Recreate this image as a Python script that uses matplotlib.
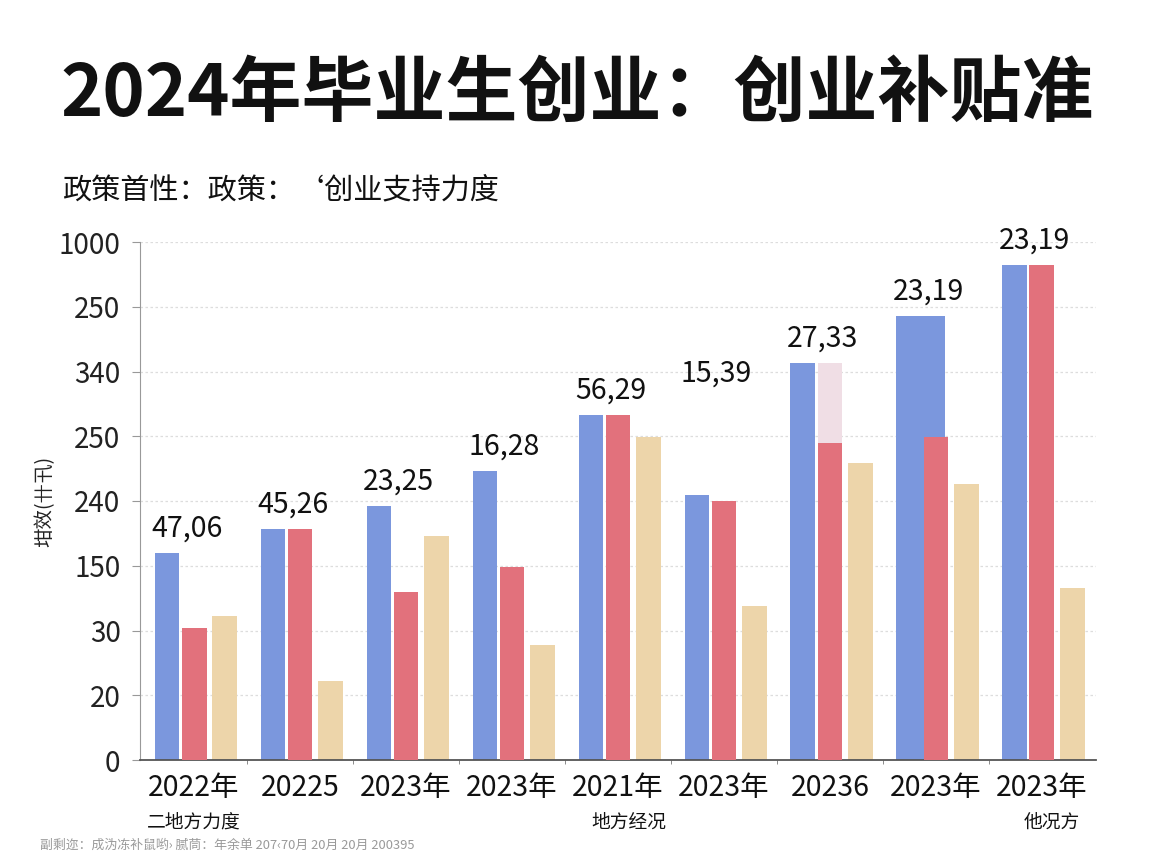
import matplotlib
matplotlib.use("Agg")
import matplotlib.pyplot as plt
import numpy as np

plt.rcParams['font.family'] = ['Noto Sans CJK SC', 'DejaVu Sans']

# ---- data ----
years = ['2022年', '20225', '2023年', '2023年', '2021年', '2023年', '20236', '2023年', '2023年']
sub_labels = ['二地方力度', '', '', '', '地方经况', '', '', '', '他况方']
blue_vals = [3.20, 3.57, 3.92, 4.46, 5.33, 4.09, 6.13, 6.86, 7.64]
red_vals = [2.04, 3.56, 2.59, 2.98, 5.33, 4.00, 4.90, 4.99, 7.64]
beige_vals = [2.22, 1.22, 3.46, 1.78, 4.99, 2.38, 4.59, 4.26, 2.66]
pale_vals = [0, 0, 0, 0, 0, 0, 6.13, 0, 0]
bar_labels = ['47,06', '45,26', '23,25', '16,28', '56,29', '15,39', '27,33', '23,19', '23,19']
ytick_labels = ['0', '20', '30', '150', '240', '250', '340', '250', '1000']

title = '2024年毕业生创业：创业补贴准'
subtitle = '政策首性：政策：‘创业支持力度'
ylabel = '坩效(卄卂)'
footer = '副剩迩：成沩冻补鼠哟› 腻茼：年余单 207‹70月 20月 20月 200395'

# ---- style ----
c_blue = '#7b97dd'
c_red = '#e2717c'
c_beige = '#edd5aa'
c_pale = '#f0dee5'
bw = 0.235
blue_w = [bw] * 9
blue_w[7] = 0.46          # wide blue bar in 8th group
blue_shift = [0.0] * 9
blue_shift[7] = 0.11
label_extra = [0, 0, 0, 0, 0, 1.5, 0, 0, 0]
sub_shift = [0.0, 0, 0, 0, 0.1, 0, 0, 0, 0.09]

fig = plt.figure(figsize=(11.52, 8.64), dpi=100)
fig.patch.set_facecolor('white')
ax = fig.add_axes([140 / 1152, 104 / 864, (1096 - 140) / 1152, (760 - 242) / 864])

x = np.arange(len(years))
ax.bar(x - 0.255 + np.array(blue_shift), blue_vals, width=blue_w, color=c_blue, zorder=2)
ax.bar(x, pale_vals, width=bw, color=c_pale, zorder=2)
ax.bar(x, red_vals, width=bw, color=c_red, zorder=3)
ax.bar(x + 0.285, beige_vals, width=bw, color=c_beige, zorder=2)

for i, lab in enumerate(bar_labels):
    top = max(blue_vals[i], red_vals[i], pale_vals[i])
    ax.text(x[i] - 0.07, top + 0.38 + label_extra[i], lab, ha='center', va='center',
            fontsize=20.5, color='#111111', zorder=5)

ax.set_xlim(-0.51, 8.51)
ax.set_ylim(0, 8)
ax.set_yticks(np.arange(9))
ax.set_yticklabels(ytick_labels, fontsize=20, color='#222222')
ax.tick_params(axis='y', length=6, color='#999999', pad=8)
ax.set_xticks(x)
ax.set_xticklabels(years, fontsize=20.5, color='#111111')
ax.tick_params(axis='x', length=0, pad=9)
ax.set_xticks(x[:-1] + 0.5, minor=True)
ax.tick_params(axis='x', which='minor', length=3, color='#777777')

for i, s in enumerate(sub_labels):
    if s:
        ax.text(x[i] + sub_shift[i], -0.96, s, ha='center', va='center', fontsize=13.5, color='#111111')

ax.grid(axis='y', linestyle=(0, (2, 2)), color='#dddddd', linewidth=0.9, zorder=0)
ax.set_axisbelow(True)
for sp in ['top', 'right']:
    ax.spines[sp].set_visible(False)
ax.spines['left'].set_color('#999999')
ax.spines['bottom'].set_color('#555555')
ax.spines['bottom'].set_linewidth(1.3)

ax.set_ylabel(ylabel, fontsize=14, color='#222222', labelpad=2)

fig.text(60 / 1152, 1 - 95 / 864, title, fontsize=51.8, fontweight='black', color='#111111',
         ha='left', va='center')
fig.text(62 / 1152, 1 - 190 / 864, subtitle, fontsize=21, color='#111111', ha='left', va='center')
fig.text(40 / 1152, 1 - 845 / 864, footer, fontsize=9.3, color='#9a9a9a', ha='left', va='center')

fig.savefig('out.png', dpi=100)
